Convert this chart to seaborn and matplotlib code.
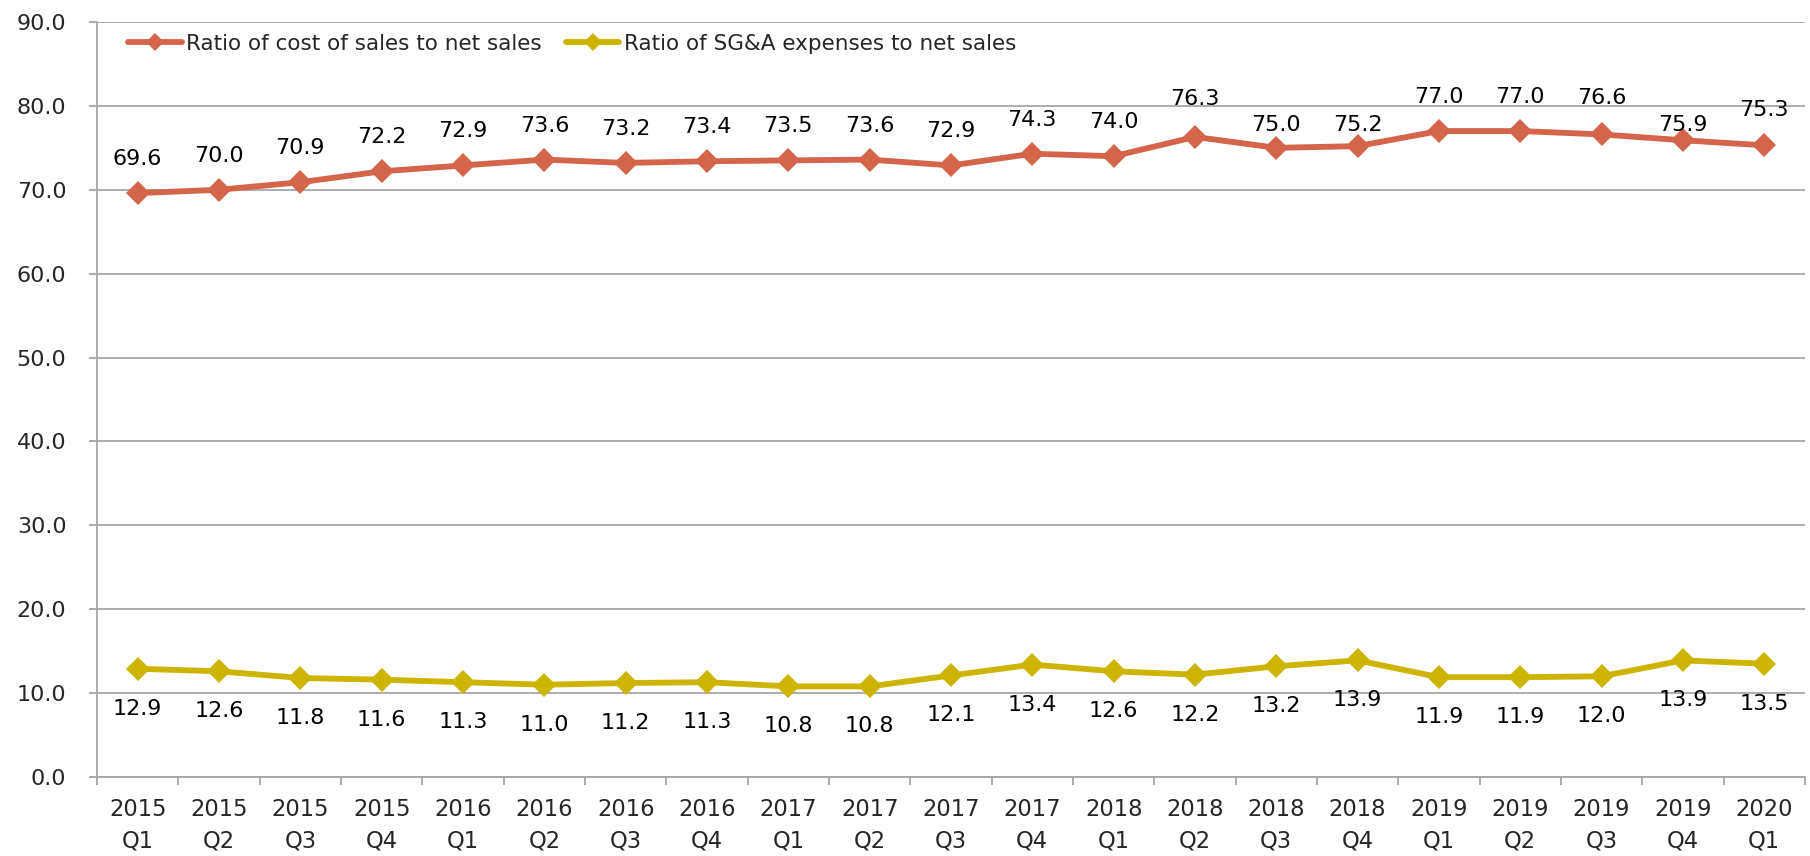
import matplotlib
matplotlib.use("Agg")
import matplotlib.pyplot as plt
import seaborn as sns
import numpy as np
import pandas as pd

categories = ["2015\nQ1", "2015\nQ2", "2015\nQ3", "2015\nQ4",
              "2016\nQ1", "2016\nQ2", "2016\nQ3", "2016\nQ4",
              "2017\nQ1", "2017\nQ2", "2017\nQ3", "2017\nQ4",
              "2018\nQ1", "2018\nQ2", "2018\nQ3", "2018\nQ4",
              "2019\nQ1", "2019\nQ2", "2019\nQ3", "2019\nQ4",
              "2020\nQ1"]
cost_ratio = [69.6, 70.0, 70.9, 72.2, 72.9, 73.6, 73.2, 73.4, 73.5, 73.6, 72.9,
              74.3, 74.0, 76.3, 75.0, 75.2, 77.0, 77.0, 76.6, 75.9, 75.3]
sga_ratio = [12.9, 12.6, 11.8, 11.6, 11.3, 11.0, 11.2, 11.3, 10.8, 10.8, 12.1,
             13.4, 12.6, 12.2, 13.2, 13.9, 11.9, 11.9, 12.0, 13.9, 13.5]
series_names = ["Ratio of cost of sales to net sales",
                "Ratio of SG&A expenses to net sales"]
yticks = [0, 10, 20, 30, 40, 50, 60, 70, 80, 90]

# label placement (pixels between marker centre and label centre), layout only
cost_label_gap_px = [36, 36, 36, 36, 36, 36, 36, 36, 36, 36, 36,
                     36, 36, 40, 24.5, 23, 36, 36, 38, 17, 37]
sga_label_gap_px = 38

sns.set_theme(style="white")
plt.rcParams['font.family'] = ['DejaVu Sans']

DPI = 100
PX2PT = 72.0 / DPI
fig = plt.figure(figsize=(18.1, 8.56), dpi=DPI)
ax = fig.add_axes([0.0536, 0.0923, 0.9436, 0.882])

pos = np.arange(len(categories))
df = pd.DataFrame({"pos": np.concatenate([pos, pos]),
                   "value": cost_ratio + sga_ratio,
                   "series": [series_names[0]] * len(pos) + [series_names[1]] * len(pos)})
colors = {series_names[0]: "#D4644A", series_names[1]: "#CCB400"}

sns.lineplot(data=df, x="pos", y="value", hue="series", palette=colors,
             marker="D", markersize=12.5, markeredgewidth=0, linewidth=4.2,
             ax=ax, legend=True)

half_digit_px = 8
for x, v, g in zip(pos, cost_ratio, cost_label_gap_px):
    ax.annotate(f"{v:.1f}", (x, v), xytext=(0, (g - half_digit_px) * PX2PT),
                textcoords="offset points", ha="center", va="baseline",
                fontsize=16, color="black")
for x, v in zip(pos, sga_ratio):
    ax.annotate(f"{v:.1f}", (x, v), xytext=(0, -(sga_label_gap_px + half_digit_px) * PX2PT),
                textcoords="offset points", ha="center", va="baseline",
                fontsize=16, color="black")

ax.set_xlim(-0.5, len(categories) - 0.5)
ax.set_ylim(0, 90)
ax.set_yticks(yticks)
ax.set_yticklabels([f"{t:.1f}" for t in yticks], fontsize=16)
ax.yaxis.grid(True, color="#A6A6A6", linewidth=1.3)
ax.xaxis.grid(False)

ax.set_xticks(np.arange(len(categories) + 1) - 0.5)
ax.set_xticklabels([])
ax.set_xticks(pos, minor=True)
ax.set_xticklabels(categories, minor=True, fontsize=16.3, linespacing=1.5)
ax.tick_params(axis="x", which="major", length=6, width=1.3, color="#A6A6A6", direction="out", bottom=True)
ax.tick_params(axis="x", which="minor", length=0, pad=15)
ax.tick_params(axis="y", which="major", length=6, width=1.3, color="#A6A6A6", direction="out", left=True, pad=16)

for s in ["top", "right"]:
    ax.spines[s].set_visible(False)
for s in ["left", "bottom"]:
    ax.spines[s].set_color("#A6A6A6")
    ax.spines[s].set_linewidth(1.3)

ax.set_xlabel("")
ax.set_ylabel("")

handles, labels = ax.get_legend_handles_labels()
leg = ax.legend(handles, labels, loc="center left", bbox_to_anchor=(0.018, 0.971), ncol=2,
                frameon=False, fontsize=15.5, handlelength=2.5, handletextpad=0.22,
                columnspacing=1.1, markerscale=0.7, borderpad=0, borderaxespad=0)

fig.savefig("out.png", dpi=DPI)
